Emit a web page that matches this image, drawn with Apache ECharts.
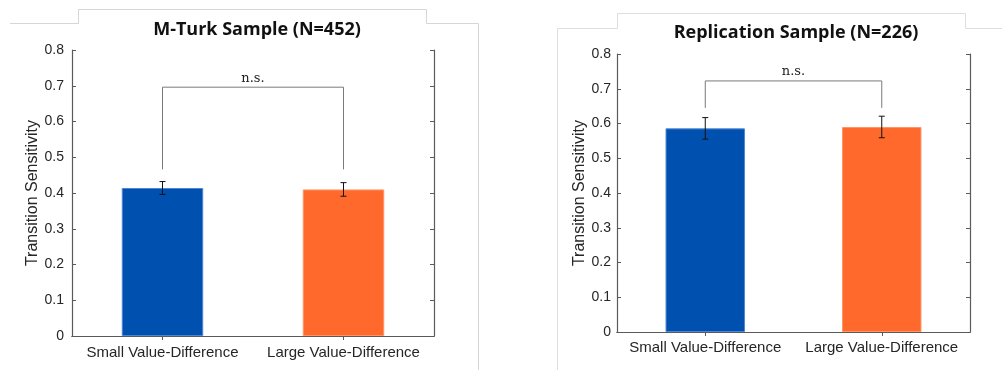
<!DOCTYPE html>
<html>
<head>
<meta charset="utf-8">
<script src="https://cdn.jsdelivr.net/npm/echarts@6/dist/echarts.min.js"></script>
<style>
  html, body { margin: 0; padding: 0; background: #fff; }
  #chart { width: 1002px; height: 370px; }
</style>
</head>
<body>
<div id="chart"></div>
<script>
// Conditions shown on both panels
const categories = ['Small Value-Difference', 'Large Value-Difference'];

// M-Turk sample: mean transition sensitivity and error-bar half widths
const mturkMeans = [0.414, 0.410];
const mturkErrors = [0.018, 0.019];

// Replication sample
const replicationMeans = [0.586, 0.590];
const replicationErrors = [0.031, 0.031];

// Significance brackets: [bar index A, bar index B, top value, foot value]
const mturkBracket = [0, 1, 0.696, 0.466];
const replicationBracket = [0, 1, 0.7225, 0.645];
const bracketLabel = 'n.s.';

const panelTitles = ['M-Turk Sample (N=452)', 'Replication Sample (N=226)'];
const yAxisName = 'Transition Sensitivity';
const barColors = ['#0050b0', '#ff6a2c'];
const barEdges = ['#4d86d2', '#ff9466'];

const axisColor = '#5a5a5a';
const labelColor = '#262626';
const sansFont = '"Liberation Sans", Arial, sans-serif';

function xAxes(gridIndex, margin) {
  return [
    {
      type: 'category', gridIndex: gridIndex, data: categories, position: 'bottom',
      axisLine: { show: true, lineStyle: { color: axisColor, width: 1.2 } },
      axisTick: { show: true, inside: true, alignWithLabel: true, length: 4, lineStyle: { color: axisColor } },
      axisLabel: { color: labelColor, fontFamily: sansFont, fontSize: 15, margin: margin,
        interval: 0, hideOverlap: false }
    },
    {
      type: 'category', gridIndex: gridIndex, data: categories, position: 'top',
      axisLine: { show: true, lineStyle: { color: axisColor, width: 1.2 } },
      axisTick: { show: true, inside: true, alignWithLabel: true, length: 4, lineStyle: { color: axisColor } },
      axisLabel: { show: false }
    }
  ];
}

function yAxes(gridIndex, labelMargin, nameGap) {
  return [
    {
      type: 'value', gridIndex: gridIndex, min: 0, max: 0.8, interval: 0.1, position: 'left',
      name: yAxisName, nameLocation: 'middle', nameGap: nameGap,
      nameTextStyle: { color: labelColor, fontFamily: sansFont, fontSize: 16 },
      splitLine: { show: false },
      axisLine: { show: true, lineStyle: { color: axisColor, width: 1.2 } },
      axisTick: { show: true, inside: true, length: 4, lineStyle: { color: axisColor } },
      axisLabel: { color: labelColor, fontFamily: sansFont, fontSize: 14, margin: labelMargin,
        formatter: v => (Math.round(v * 10) / 10).toString() }
    },
    {
      type: 'value', gridIndex: gridIndex, min: 0, max: 0.8, interval: 0.1, position: 'right',
      splitLine: { show: false },
      axisLine: { show: true, lineStyle: { color: axisColor, width: 1.2 } },
      axisTick: { show: true, inside: true, length: 4, lineStyle: { color: axisColor } },
      axisLabel: { show: false }
    }
  ];
}

function barSeries(xIndex, yIndex, means) {
  return {
    type: 'bar', xAxisIndex: xIndex, yAxisIndex: yIndex, barWidth: '45%',
    data: means.map((v, i) => ({
      value: v,
      itemStyle: { color: barColors[i], borderColor: barEdges[i], borderWidth: 1 }
    })),
    silent: true, z: 2
  };
}

function errorSeries(xIndex, yIndex, means, errors) {
  return {
    type: 'custom', xAxisIndex: xIndex, yAxisIndex: yIndex, silent: true, z: 5,
    data: means.map((m, i) => [i, m - errors[i], m + errors[i]]),
    renderItem: function (params, api) {
      const lo = api.coord([api.value(0), api.value(1)]);
      const hi = api.coord([api.value(0), api.value(2)]);
      const cap = 3;
      const style = { stroke: '#111', lineWidth: 1 };
      return {
        type: 'group',
        children: [
          { type: 'line', shape: { x1: lo[0], y1: lo[1], x2: hi[0], y2: hi[1] }, style: style },
          { type: 'line', shape: { x1: lo[0] - cap, y1: lo[1], x2: lo[0] + cap, y2: lo[1] }, style: style },
          { type: 'line', shape: { x1: hi[0] - cap, y1: hi[1], x2: hi[0] + cap, y2: hi[1] }, style: style }
        ]
      };
    }
  };
}

function bracketSeries(xIndex, yIndex, bracket) {
  return {
    type: 'custom', xAxisIndex: xIndex, yAxisIndex: yIndex, silent: true, z: 4,
    data: [bracket],
    renderItem: function (params, api) {
      const a = api.value(0), b = api.value(1), top = api.value(2), foot = api.value(3);
      const p0 = api.coord([a, foot]);
      const p1 = api.coord([a, top]);
      const p2 = api.coord([b, top]);
      const p3 = api.coord([b, foot]);
      return {
        type: 'group',
        children: [
          { type: 'polyline', shape: { points: [p0, p1, p2, p3] },
            style: { stroke: '#7a7a7a', lineWidth: 1, fill: null } },
          { type: 'text', x: (p1[0] + p2[0]) / 2, y: p1[1] - 9,
            style: { text: bracketLabel, fill: '#222', font: '13px "DejaVu Serif", "Liberation Serif", serif',
              align: 'center', verticalAlign: 'middle' } }
        ]
      };
    }
  };
}

const chart = echarts.init(document.getElementById('chart'), null, { renderer: 'canvas' });

chart.setOption({
  animation: false,
  backgroundColor: '#ffffff',
  title: [
    { text: panelTitles[0], left: 252, top: 16, textAlign: 'center',
      textStyle: { fontFamily: '"Open Sans", sans-serif', fontWeight: 'bold', fontSize: 18, color: '#111' } },
    { text: panelTitles[1], left: 791, top: 19, textAlign: 'center',
      textStyle: { fontFamily: '"Open Sans", sans-serif', fontWeight: 'bold', fontSize: 18, color: '#111' } }
  ],
  grid: [
    { left: 72, right: 568, top: 50, bottom: 34, containLabel: false },
    { left: 617, right: 32, top: 54, bottom: 38, containLabel: false }
  ],
  xAxis: [...xAxes(0, 9), ...xAxes(1, 8)],
  yAxis: [...yAxes(0, 8, 31), ...yAxes(1, 6, 29)],
  series: [
    barSeries(0, 0, mturkMeans),
    errorSeries(0, 0, mturkMeans, mturkErrors),
    bracketSeries(0, 0, mturkBracket),
    barSeries(2, 2, replicationMeans),
    errorSeries(2, 2, replicationMeans, replicationErrors),
    bracketSeries(2, 2, replicationBracket)
  ],
  graphic: [
    // light panel frames around each figure
    { type: 'polyline', silent: true, z: -1,
      shape: { points: [[10, 23.5], [78.5, 23.5], [78.5, 9.5], [426.5, 9.5], [426.5, 23.5], [478.5, 23.5], [478.5, 370]] },
      style: { stroke: '#d6d6d6', lineWidth: 1, fill: null } },
    { type: 'polyline', silent: true, z: -1,
      shape: { points: [[557.5, 370], [557.5, 28.5], [617.5, 28.5], [617.5, 13.5], [965.5, 13.5], [965.5, 28.5], [1002, 28.5]] },
      style: { stroke: '#dedede', lineWidth: 1, fill: null } }
  ]
});
</script>
</body>
</html>
